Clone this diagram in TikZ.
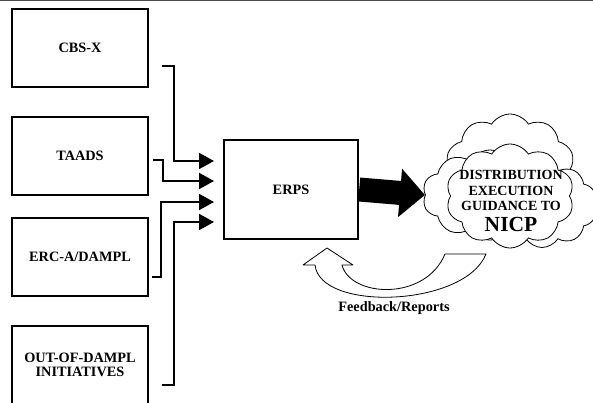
\documentclass[tikz,border=0pt]{standalone}
\usepackage{fontspec}
\setmainfont{Liberation Serif}
\usetikzlibrary{arrows.meta,shapes.symbols}
\begin{document}
\begin{tikzpicture}[x=1pt,y=-1pt,
    box/.style={draw,line width=2.6pt,minimum width=136pt,minimum height=78pt,inner sep=0pt,align=center,font=\fontsize{14.3}{14.5}\selectfont\bfseries},
    feed/.style={line width=2pt,-{Triangle[length=15pt,width=16pt]}},
    puff/.style={cloud,draw,fill=white,line width=0.8pt,cloud puffs=10,cloud puff arc=115,inner sep=0pt}]
       \useasboundingbox (0,0) rectangle (593,403);
       \draw[black!70,line width=1.5pt] (0,0.75) -- (593,0.75);

       \node[box] (cbs) at (80, 48) {CBS-X};
       \node[box] (taads) at (80, 156) {TAADS};
       \node[box] (erc) at (80, 257) {ERC-A/DAMPL};
       \node[box] (out) at (80, 365) {OUT-OF-DAMPL\\INITIATIVES};
       \node[box,line width=2.4pt,minimum width=134pt,minimum height=99pt] (erps) at (291, 189.5) {ERPS};

       % clouds, back to front
       \node[puff,minimum width=130pt,minimum height=112pt] (cloudA) at (510, 170) {};
       \node[puff,minimum width=135pt,minimum height=90pt] (cloudB) at (490, 195) {};
       \node[puff,minimum width=110pt,minimum height=85pt] (cloudC) at (542, 205) {};
       \node[puff,minimum width=128pt,minimum height=104pt] (cloudD) at (510, 196) {};
       \node[align=center,font=\fontsize{14}{15.5}\selectfont\bfseries] (nicp) at (511, 201)
          {DISTRIBUTION\\EXECUTION\\GUIDANCE TO\\[5pt]{\fontsize{21.5}{22}\selectfont NICP}};

       \coordinate (s1) at (162, 66);
       \coordinate (s2) at (153, 160);
       \coordinate (s3) at (152, 277);
       \coordinate (s4) at (162, 385);
       \coordinate (t1) at (214, 161);
       \coordinate (t2) at (214, 181);
       \coordinate (t3) at (214, 202);
       \coordinate (t4) at (214, 222);

       \draw[feed] (s1) -- ++(12,0) |- (t1);
       \draw[feed] (s2) -- ++(10,0) |- (t2);
       \draw[feed] (s3) -- ++(9,0) |- (t3);
       \draw[feed] (s4) -- ++(12,0) |- (t4);

       \draw[line width=24pt,-{Triangle[length=25pt,width=47pt]}] (erps.east) -- (cloudB.west);

       % hollow return arrow
       \draw[fill=white,line width=0.8pt,line join=round] (303,265) -- (327,248) -- (353,265) -- (342,265)
          .. controls (350,297) and (425,302) .. (445,254) -- (486,254)
          .. controls (465,307) and (320,312) .. (315,265) -- cycle;
       \node[font=\fontsize{14.3}{14.5}\selectfont\bfseries] (fb) at (394, 308) {Feedback/Reports};
     \end{tikzpicture}
\end{document}
